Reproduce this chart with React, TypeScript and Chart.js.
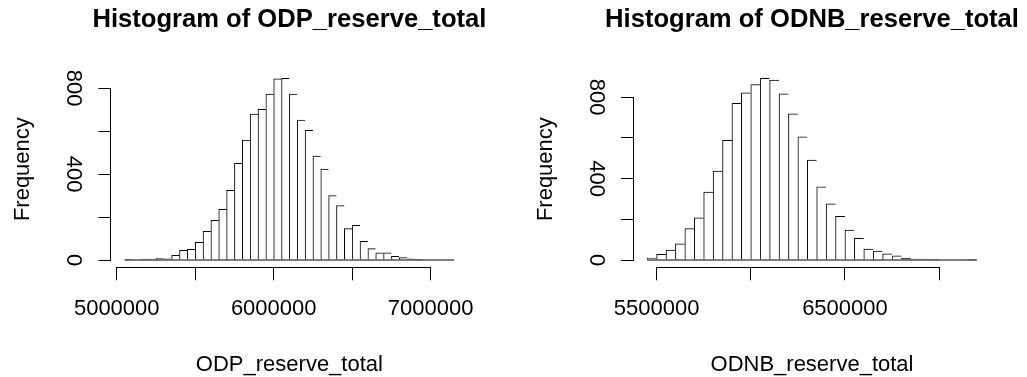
import React, { useEffect, useRef } from 'react';
import { Chart, registerables } from 'chart.js';

Chart.register(...registerables);

// ---------- data ----------
const ODP_TITLE = 'Histogram of ODP_reserve_total';
const ODP_XLABEL = 'ODP_reserve_total';
const ODP_BIN_START = 5050000;
const ODP_BIN_WIDTH = 50000;
const ODP_COUNTS = [
  3, 2, 4, 5, 8, 6, 22, 45, 50, 82, 134, 185, 236, 324, 450, 558, 679, 701, 772, 843, 846,
  772, 651, 604, 484, 423, 300, 253, 146, 162, 87, 53, 34, 33, 17, 11, 6, 3, 2, 2, 1, 2,
];
const ODP_X_TICKS = [5000000, 5500000, 6000000, 6500000, 7000000];
const ODP_X_LABELS = ['5000000', '', '6000000', '', '7000000'];

const ODNB_TITLE = 'Histogram of ODNB_reserve_total';
const ODNB_XLABEL = 'ODNB_reserve_total';
const ODNB_BIN_START = 5450000;
const ODNB_BIN_WIDTH = 50000;
const ODNB_COUNTS = [
  10, 28, 49, 80, 154, 207, 333, 436, 587, 769, 821, 861, 892, 883, 816, 717, 604, 490, 359,
  276, 214, 147, 106, 54, 44, 30, 20, 8, 5, 5, 3, 2, 1, 1, 3,
];
const ODNB_X_TICKS = [5500000, 6000000, 6500000, 7000000];
const ODNB_X_LABELS = ['5500000', '', '6500000', ''];

const Y_TICKS = [0, 200, 400, 600, 800];
const Y_LABELS = ['0', '', '400', '', '800'];
const Y_TITLE = 'Frequency';

// ---------- layout ----------
const H = 377;
const AREA_TOP = 71;
const AREA_BOTTOM = 267.3;
const TITLE_BASELINE = 26.7;
const FONT = "'Liberation Sans', Arial, Helvetica, sans-serif";

Chart.defaults.font.family = FONT;
Chart.defaults.color = '#000';

const rAxesPlugin = {
  id: 'rAxes',
  afterDraw(chart: any, _args: any, opts: any) {
    const { ctx, chartArea } = chart;
    const xs = chart.scales.x;
    const ys = chart.scales.y;
    const xT: number[] = opts.xTicks;
    const yT: number[] = opts.yTicks;
    ctx.save();
    ctx.strokeStyle = '#000';
    ctx.lineWidth = 1;
    // x axis segment
    const ay = Math.round(xs.top) + 0.5;
    ctx.beginPath();
    ctx.moveTo(Math.round(xs.getPixelForValue(xT[0]) - 0.5), ay);
    ctx.lineTo(Math.round(xs.getPixelForValue(xT[xT.length - 1]) - 0.5) + 1, ay);
    ctx.stroke();
    // y axis segment
    const ax = Math.round(ys.right) - 0.5;
    ctx.beginPath();
    ctx.moveTo(ax, Math.round(ys.getPixelForValue(yT[0]) - 0.5) + 1);
    ctx.lineTo(ax, Math.round(ys.getPixelForValue(yT[yT.length - 1]) - 0.5));
    ctx.stroke();
    // bar bottoms (R draws full rectangles)
    const y0 = ys.getPixelForValue(0);
    ctx.beginPath();
    ctx.moveTo(xs.getPixelForValue(opts.binStart), y0);
    ctx.lineTo(xs.getPixelForValue(opts.binStart + opts.nBins * opts.binWidth), y0);
    ctx.stroke();
    // main title, centred over the plot region (no width squeezing)
    ctx.fillStyle = '#000';
    ctx.font = `bold 25.6px ${FONT}`;
    ctx.textAlign = 'center';
    ctx.textBaseline = 'alphabetic';
    ctx.fillText(opts.title, (chartArea.left + chartArea.right) / 2, TITLE_BASELINE);
    ctx.restore();
  },
};

interface PanelProps {
  title: string;
  xLabel: string;
  binStart: number;
  binWidth: number;
  counts: number[];
  xTicks: number[];
  xLabels: string[];
  canvasLeft: number;
  canvasWidth: number;
  areaLeft: number;
  areaRight: number;
  yTitlePad: number;
}

function Histogram(p: PanelProps) {
  const ref = useRef<HTMLCanvasElement>(null);
  useEffect(() => {
    const n = p.counts.length;
    const lo = p.binStart;
    const hi = p.binStart + n * p.binWidth;
    const xPad = 0.04 * (hi - lo);
    const maxC = Math.max(...p.counts);
    const data = p.counts.map((c, i) => ({ x: lo + (i + 0.5) * p.binWidth, y: c }));
    const tickGrid = {
      display: true,
      drawOnChartArea: false,
      drawTicks: true,
      tickLength: 13,
      color: '#000',
      lineWidth: 1,
      offset: false,
    };
    const chart = new Chart(ref.current as HTMLCanvasElement, {
      type: 'bar',
      data: {
        datasets: [
          {
            data,
            backgroundColor: '#ffffff',
            borderColor: '#000000',
            borderSkipped: 'start',
            borderWidth: (ctx: any) => ({
              top: 1,
              left: 1,
              right: ctx.dataIndex === n - 1 ? 1 : 0,
              bottom: 0,
            }),
            barPercentage: 1,
            categoryPercentage: 1,
          } as any,
        ],
      },
      options: {
        responsive: false,
        maintainAspectRatio: false,
        animation: false,
        devicePixelRatio: 1,
        events: [],
        layout: {
          padding: { left: 0, top: AREA_TOP, bottom: 0, right: p.canvasWidth - p.areaRight },
        },
        plugins: {
          legend: { display: false },
          tooltip: { enabled: false },
          title: { display: false },
          rAxes: {
            title: p.title,
            xTicks: p.xTicks,
            yTicks: Y_TICKS,
            binStart: lo,
            binWidth: p.binWidth,
            nBins: n,
          },
        } as any,
        scales: {
          x: {
            type: 'linear',
            offset: false,
            min: lo - xPad,
            max: hi + xPad,
            afterBuildTicks: (s: any) => {
              s.ticks = p.xTicks.map((v) => ({ value: v }));
            },
            afterFit: (s: any) => {
              s.height = H - AREA_BOTTOM;
            },
            ticks: {
              autoSkip: false,
              minRotation: 0,
              maxRotation: 0,
              padding: 15.6,
              color: '#000',
              font: { size: 22 },
              callback: (v: any) => p.xLabels[p.xTicks.indexOf(Number(v))] ?? '',
            },
            grid: tickGrid,
            border: { display: false },
            title: {
              display: true,
              text: p.xLabel,
              color: '#000',
              font: { size: 22, lineHeight: 1 },
              padding: { top: 0, bottom: 1 },
            },
          },
          y: {
            type: 'linear',
            min: -0.04 * maxC,
            max: 1.04 * maxC,
            afterBuildTicks: (s: any) => {
              s.ticks = Y_TICKS.map((v) => ({ value: v }));
            },
            afterFit: (s: any) => {
              s.width = p.areaLeft;
            },
            ticks: {
              autoSkip: false,
              minRotation: -90,
              maxRotation: -90,
              crossAlign: 'center',
              padding: 7,
              color: '#000',
              font: { size: 22 },
              callback: (v: any) => Y_LABELS[Y_TICKS.indexOf(Number(v))] ?? '',
            },
            grid: tickGrid,
            border: { display: false },
            title: {
              display: true,
              text: Y_TITLE,
              color: '#000',
              font: { size: 22, lineHeight: 1 },
              padding: { top: p.yTitlePad, bottom: 0 },
            },
          },
        } as any,
      },
      plugins: [rAxesPlugin],
    } as any);
    return () => chart.destroy();
  }, []);
  return (
    <canvas
      ref={ref}
      width={p.canvasWidth}
      height={H}
      style={{ position: 'absolute', left: p.canvasLeft, top: 0, width: p.canvasWidth, height: H }}
    />
  );
}

export default function App() {
  return (
    <div style={{ position: 'absolute', left: 0, top: 0, width: 1027, height: H, background: '#fff', overflow: 'hidden' }}>
      <Histogram
        title={ODP_TITLE}
        xLabel={ODP_XLABEL}
        binStart={ODP_BIN_START}
        binWidth={ODP_BIN_WIDTH}
        counts={ODP_COUNTS}
        xTicks={ODP_X_TICKS}
        xLabels={ODP_X_LABELS}
        canvasLeft={0}
        canvasWidth={514}
        areaLeft={111.4}
        areaRight={467.4}
        yTitlePad={12}
      />
      <Histogram
        title={ODNB_TITLE}
        xLabel={ODNB_XLABEL}
        binStart={ODNB_BIN_START}
        binWidth={ODNB_BIN_WIDTH}
        counts={ODNB_COUNTS}
        xTicks={ODNB_X_TICKS}
        xLabels={ODNB_X_LABELS}
        canvasLeft={514}
        canvasWidth={513}
        areaLeft={120}
        areaRight={476}
        yTitlePad={20.6}
      />
    </div>
  );
}
